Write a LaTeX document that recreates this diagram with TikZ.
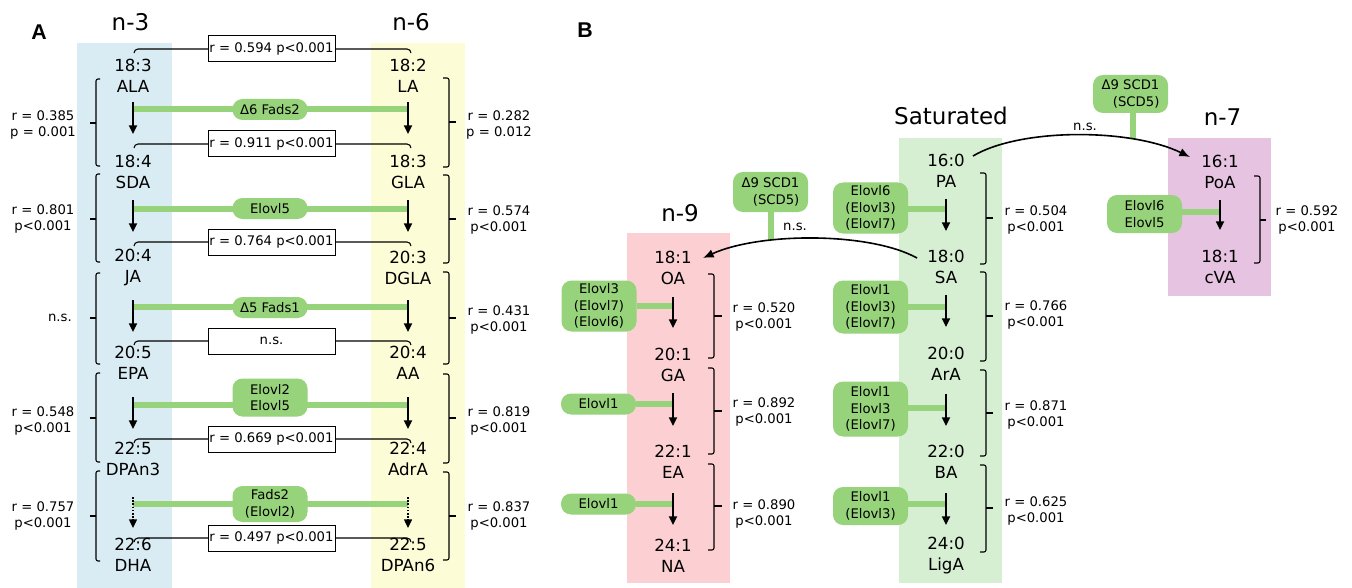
\documentclass[tikz,border=0pt]{standalone}
\usepackage{fontspec}
\setmainfont{DejaVu Sans}
\newfontfamily\panelfont{Liberation Sans}
\usetikzlibrary{arrows.meta}
\definecolor{colblue}{RGB}{218,236,243}
\definecolor{colyellow}{RGB}{252,252,215}
\definecolor{colpink}{RGB}{252,208,210}
\definecolor{colsat}{RGB}{214,239,210}
\definecolor{colpurple}{RGB}{230,195,224}
\definecolor{pillgreen}{RGB}{150,211,122}
\newcommand{\mybrace}[6]{%
  \draw[brk] (#2,#4) -- (#1,#4) -- (#1,#5) -- (#2,#5);
  \draw[brk] (#1,#6) -- (#3,#6);}
\begin{document}
\begin{tikzpicture}[x=0.75pt,y=-0.75pt,
  lip/.style={font=\fontsize{12.5}{15.75}\selectfont,align=center,inner sep=0pt},
  sm/.style={font=\fontsize{9.9}{12}\selectfont,align=center,inner sep=0pt},
  head/.style={font=\fontsize{17.25}{20}\selectfont,inner sep=0pt},
  panel/.style={font=\panelfont\bfseries\fontsize{16}{18}\selectfont,inner sep=0pt},
  pill/.style={fill=pillgreen,rounded corners=7.5pt,font=\fontsize{9.9}{12.4}\selectfont,align=center,inner sep=0pt,minimum width=56.25pt,minimum height=15.75pt},
  corr/.style={draw,line width=0.75pt,fill=white,minimum width=95.25pt,minimum height=19.5pt,inner sep=0pt,font=\fontsize{9.9}{12}\selectfont},
  conv/.style={-{Triangle[length=6.5pt,width=6pt]},line width=1.3pt},
  gbar/.style={draw=pillgreen,line width=4pt},
  brk/.style={line width=0.8pt,rounded corners=1.5pt},
  link/.style={line width=0.8pt,rounded corners=3pt},
  curv/.style={-{Latex[length=8pt,width=6.5pt]},line width=1.2pt},
]
\fill[white] (0,0) rectangle (1352,588);
\useasboundingbox (0,0) rectangle (1352,588);
% ---------- backgrounds
\fill[colblue] (77,43) rectangle (172,588);
\fill[colyellow] (371,43) rectangle (465,588);
\fill[colpink] (627,233) rectangle (730,583);
\fill[colsat] (899,138) rectangle (1002,583);
\fill[colpurple] (1168,138) rectangle (1271,296);
% ---------- panel letters and headings
\node[panel] (A) at (39,32) {A};
\node[panel] (B) at (585,30) {B};
\node[head] (hn3) at (130.5,22) {n-3};
\node[head] (hn6) at (411,22) {n-6};
\node[head] (hn9) at (680,213.5) {n-9};
\node[head] (hsat) at (951,115.5) {Saturated};
\node[head] (hn7) at (1222.5,117) {n-7};
% ---------- panel A lipids
\foreach \n/\y/\t in {L1/75.5/{18:3\\ALA},L2/172/{18:4\\SDA},L3/267.5/{20:4\\JA},L4/362.5/{20:5\\EPA},L5/458.5/{22:5\\DPAn3},L6/554.5/{22:6\\DHA}}
  \node[lip] (\n) at (133,\y) {\t};
\foreach \n/\y/\t in {R1/75.5/{18:2\\LA},R2/172/{18:3\\GLA},R3/267.5/{20:3\\DGLA},R4/362.5/{20:4\\AA},R5/458.5/{22:4\\AdrA},R6/554.5/{22:5\\DPAn6}}
  \node[lip] (\n) at (408,\y) {\t};
% green bars panel A
\foreach \i/\b in {1/109,2/209,3/307,4/405,5/504}{
  \coordinate (gl\i) at (133,\b);
  \coordinate (gr\i) at (408,\b);
  \draw[gbar] (gl\i) -- (gr\i);
}
\node[pill] (pa1) at (270,109.5) {Δ6 Fads2};
\node[pill] (pa2) at (270,208.5) {Elovl5};
\node[pill] (pa3) at (270,307.5) {Δ5 Fads1};
\node[pill,minimum height=28.5pt] (pa4) at (270,397.5) {Elovl2\\Elovl5};
\node[pill,minimum height=27pt] (pa5) at (270,504) {Fads2\\(Elovl2)};
% arrows panel A
\foreach \i/\s/\e in {1/102/134,2/200/232,3/300/332,4/397/429}{
  \coordinate (la\i s) at (133,\s); \coordinate (la\i e) at (133,\e);
  \coordinate (ra\i s) at (408,\s); \coordinate (ra\i e) at (408,\e);
  \draw[conv] (la\i s) -- (la\i e);
  \draw[conv] (ra\i s) -- (ra\i e);
}
\coordinate (la5s) at (133,497); \coordinate (la5e) at (133,528);
\coordinate (ra5s) at (408,497); \coordinate (ra5e) at (408,528);
\draw[conv,line width=1pt,dash pattern=on 1.2pt off 1.2pt] (la5s) -- (la5e);
\draw[conv,line width=1pt,dash pattern=on 1.2pt off 1.2pt] (ra5s) -- (ra5e);
% correlation boxes panel A
\foreach \i/\y/\t in {1/49/{r = 0.594 p<0.001},2/144/{r = 0.911 p<0.001},3/242/{r = 0.764 p<0.001},4/341/{n.s.},5/439/{r = 0.669 p<0.001},6/538/{r = 0.497 p<0.001}}{
  \coordinate (cl\i) at (134,\y+4);
  \coordinate (cr\i) at (411,\y+4);
  \draw[link] (cl\i) |- (271.5,\y) -- (cr\i |- 0,\y) -- (cr\i);
  \node[corr] (c\i) at (271.5,\y) {\t};
}
% brackets panel A
\mybrace{96}{100}{90}{79}{166}{123}
\mybrace{96}{100}{90}{174}{262}{219}
\mybrace{96}{100}{90}{273}{364}{318}
\mybrace{96}{100}{90}{373}{462}{418}
\mybrace{96}{100}{90}{471}{561}{516}
\mybrace{449}{443}{456}{78}{167}{122}
\mybrace{449}{443}{456}{175}{263}{219}
\mybrace{449}{443}{456}{272}{364}{318}
\mybrace{449}{443}{456}{374}{463}{418}
\mybrace{449}{443}{456}{472}{560}{516}
\node[sm] (lA1) at (43,124.5) {r = 0.385\\p = 0.001};
\node[sm] (lA2) at (43,219) {r = 0.801\\p<0.001};
\node[sm,anchor=east] (lA3) at (72,318) {n.s.};
\node[sm] (lA4) at (43,421) {r = 0.548\\p<0.001};
\node[sm] (lA5) at (43,516) {r = 0.757\\p<0.001};
\node[sm] (rA1) at (499,125) {r = 0.282\\p = 0.012};
\node[sm] (rA2) at (499,219.5) {r = 0.574\\p<0.001};
\node[sm] (rA3) at (499,320) {r = 0.431\\p<0.001};
\node[sm] (rA4) at (499,421) {r = 0.819\\p<0.001};
\node[sm] (rA5) at (499,516) {r = 0.837\\p<0.001};
% ---------- panel B lipids
\foreach \n/\y/\t in {N1/268/{18:1\\OA},N2/364.5/{20:1\\GA},N3/461.5/{22:1\\EA},N4/555.5/{24:1\\NA}}
  \node[lip] (\n) at (673,\y) {\t};
\foreach \n/\y/\t in {S1/171/{16:0\\PA},S2/267/{18:0\\SA},S3/363.5/{20:0\\ArA},S4/462/{22:0\\BA},S5/556/{24:0\\LigA}}
  \node[lip] (\n) at (946,\y) {\t};
\node[lip] (M1) at (1220,171.5) {16:1\\PoA};
\node[lip] (M2) at (1220,266.5) {18:1\\cVA};
% pills panel B
\node[pill,minimum height=38.25pt] (p91) at (599,306) {Elovl3\\(Elovl7)\\(Elovl6)};
\node[pill] (p92) at (598.5,404) {Elovl1};
\node[pill] (p93) at (598.5,504) {Elovl1};
\node[pill,minimum height=38.25pt] (ps1) at (870.5,208) {Elovl6\\(Elovl3)\\(Elovl7)};
\node[pill,minimum height=39.75pt] (ps2) at (870.5,307) {Elovl1\\(Elovl3)\\(Elovl7)};
\node[pill,minimum height=41.25pt] (ps3) at (870.5,409) {Elovl1\\Elovl3\\(Elovl7)};
\node[pill,minimum height=28.5pt] (ps4) at (870.5,506) {Elovl1\\(Elovl3)};
\node[pill,minimum height=28.5pt] (p71) at (1144.5,214) {Elovl6\\Elovl5};
\node[pill,minimum height=30pt,align=right] (d1) at (770.5,192) {Δ9 SCD1\\(SCD5)};
\node[pill,minimum height=28.5pt,align=right] (d2) at (1130.5,94) {Δ9 SCD1\\(SCD5)};
% bars panel B
\foreach \p/\x/\y in {p91/673/306,p92/673/404,p93/673/504,ps1/946/209,ps2/946/307,ps3/946/408,ps4/946/504,p71/1220/212}{
  \coordinate (\p t) at (\x,\y);
  \draw[gbar] (\p.east |- \p t) -- (\p t);
}
% stems of delta-9
\coordinate (d1t) at (771,240);
\coordinate (d2t) at (1133,139);
\draw[gbar] (d1.south -| d1t) -- (d1t);
\draw[gbar] (d2.south -| d2t) -- (d2t);
% arrows panel B
\foreach \n/\x/\s/\e in {n1/673/297/328,n2/673/393/426,n3/673/493/525,s1/946/199/231,s2/946/295/327,s3/946/394/426,s4/946/493/525,m1/1220/200/230}{
  \coordinate (\n s) at (\x,\s); \coordinate (\n e) at (\x,\e);
  \draw[conv] (\n s) -- (\n e);
}
% curved desaturation arrows
\coordinate (saW) at (917,258);
\coordinate (oaE) at (703,258);
\coordinate (paE) at (973,156);
\coordinate (poW) at (1190,157);
\draw[curv] (saW) .. controls (870,232) and (760,232) .. (oaE);
\draw[curv] (paE) .. controls (1020,128) and (1130,128) .. (poW);
\node[sm] (ns1) at (795,227) {n.s.};
\node[sm] (ns2) at (1085,127) {n.s.};
% brackets panel B
\mybrace{714}{708}{722}{274}{358}{316}
\mybrace{714}{708}{722}{368}{454}{411}
\mybrace{714}{708}{722}{464}{550}{506}
\mybrace{986}{980}{993}{173}{264}{218}
\mybrace{986}{980}{993}{272}{361}{316}
\mybrace{986}{980}{993}{370}{456}{413}
\mybrace{986}{980}{993}{465}{552}{508}
\mybrace{1260}{1254}{1266}{176}{263}{220}
\node[sm] (b91) at (764,317) {r = 0.520\\p<0.001};
\node[sm] (b92) at (764,412) {r = 0.892\\p<0.001};
\node[sm] (b93) at (764,513.5) {r = 0.890\\p<0.001};
\node[sm] (bs1) at (1036,219.5) {r = 0.504\\p<0.001};
\node[sm] (bs2) at (1036,315) {r = 0.766\\p<0.001};
\node[sm] (bs3) at (1036,415) {r = 0.871\\p<0.001};
\node[sm] (bs4) at (1036,511) {r = 0.625\\p<0.001};
\node[sm] (b71) at (1307,219.5) {r = 0.592\\p<0.001};
\end{tikzpicture}
\end{document}
